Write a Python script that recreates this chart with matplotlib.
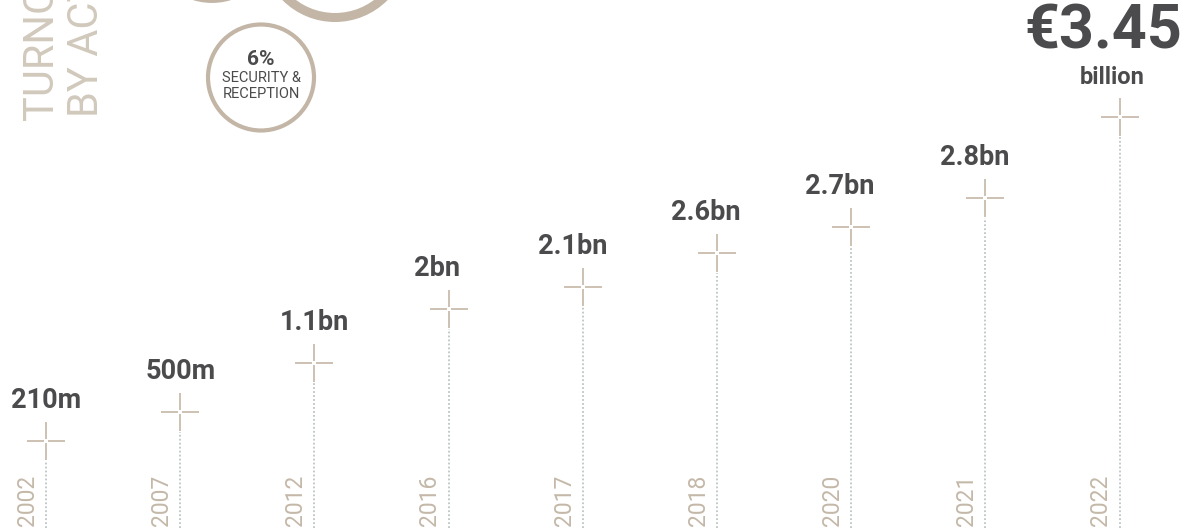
import numpy as np
import matplotlib.pyplot as plt
from matplotlib.path import Path
from matplotlib.patches import Circle

# ---------------------------------------------------------
# DATA
# ---------------------------------------------------------
years = ['2002', '2007', '2012', '2016', '2017', '2018', '2020', '2021', '2022']
turnover_labels = ['210m', '500m', '1.1bn', '2bn', '2.1bn', '2.6bn', '2.7bn', '2.8bn', 'billion']
headline = '€3.45'
# height of each marker on the (non-linear) timeline
levels = [87, 116, 165, 219, 241, 275, 301, 330, 411]

dark = '#4b4b4d'
beige = '#c3b6a6'
year_col = '#c4b8a8'
title_col = '#d2c9bd'
dot_col = '#bcc5c5'

plt.rcParams['font.family'] = ['Roboto', 'DejaVu Sans']

fig = plt.figure(figsize=(11.86, 5.28), dpi=100)

# decoration layer in pixel units
deco = fig.add_axes([0, 0, 1, 1])
deco.set_xlim(0, 1186)
deco.set_ylim(528, 0)
deco.axis('off')

# main timeline layer
ax = fig.add_axes([0, 0, 1, 1])
ax.set_xlim(-0.3428, 8.4948)
ax.set_ylim(0, 528)
ax.axis('off')
ax.patch.set_alpha(0)

x = np.arange(len(years))

# crosshair marker with a tiny gap in the middle
cross = Path([(-1, 0), (-0.1, 0), (0.1, 0), (1, 0),
              (0, -1), (0, -0.1), (0, 0.1), (0, 1)],
             [Path.MOVETO, Path.LINETO, Path.MOVETO, Path.LINETO,
              Path.MOVETO, Path.LINETO, Path.MOVETO, Path.LINETO])

for xi, lv in zip(x, levels):
    ax.plot([xi, xi], [0, lv - 20], color=dot_col, lw=1.3, linestyle=(0, (1, 1.2)))
ax.plot(x, levels, linestyle='none', marker=cross, markersize=27.5,
        markeredgecolor=beige, markerfacecolor='none', markeredgewidth=1.2)

# small horizontal nudges of some value labels (points)
label_dx = {'2bn': -8, '2.1bn': -7, '2.6bn': -8, '2.7bn': -8, '2.8bn': -8, 'billion': -5}

for xi, lv, lab, yr in zip(x, levels, turnover_labels, years):
    fs = 17 if lab == 'billion' else 19.5
    ax.annotate(lab, (xi, lv), xytext=(label_dx.get(lab, 0), 24), textcoords='offset points',
                ha='center', va='baseline', fontsize=fs, fontweight='bold', color=dark)
    ax.annotate(yr, (xi, 0), xytext=(-13.5, 1.5), textcoords='offset points',
                rotation=90, ha='center', va='bottom', fontsize=16.5,
                fontweight='normal', color=year_col)

# headline figure above the last marker
ax.annotate(headline, (x[-1], levels[-1]), xytext=(45, 49), textcoords='offset points',
            ha='right', va='baseline', fontsize=44, fontweight='bold', color=dark)

# ---------------------------------------------------------
# top-left decoration (cropped title and rings)
# ---------------------------------------------------------
deco.text(53, 120, 'TURNOVER', rotation=90, rotation_mode='anchor', ha='left',
          va='baseline', fontsize=30, fontweight='normal', color=title_col)
deco.text(98, 117, 'BY ACTIVITY', rotation=90, rotation_mode='anchor', ha='left',
          va='baseline', fontsize=30, fontweight='normal', color=title_col)

deco.add_patch(Circle((212, -62), 63, fill=False, ec=beige, lw=2.8))
deco.add_patch(Circle((335, -52), 69.5, fill=False, ec=beige, lw=6.5))
deco.add_patch(Circle((261, 77.5), 53, fill=False, ec=beige, lw=3))

deco.text(261, 65, '6%', ha='center', va='baseline', fontsize=15,
          fontweight='bold', color=dark)
deco.text(261, 82, 'SECURITY &', ha='center', va='baseline', fontsize=10.5, color=dark)
deco.text(261, 98, 'RECEPTION', ha='center', va='baseline', fontsize=10.5, color=dark)

fig.savefig('out.png', dpi=100)
